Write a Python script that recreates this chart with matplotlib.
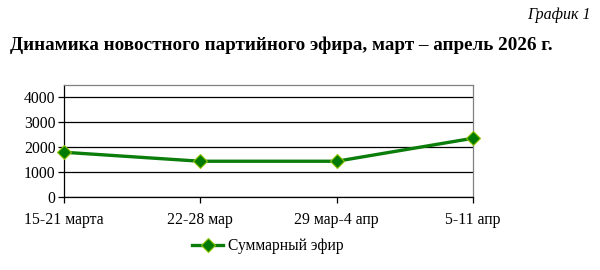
import matplotlib as mpl
from matplotlib import pyplot as plt

weeks = ['15-21 марта', '22-28 мар', '29 мар-4 апр', '5-11 апр']
total_air = [1790, 1430, 1430, 2350]
yticks = [0, 1000, 2000, 3000, 4000]

mpl.rc('font', family='Liberation Serif')

fig = plt.figure(figsize=(6, 2.7), dpi=100)
ax = fig.add_axes([64/600, 1 - 197/270, (473 - 64)/600, (197 - 85)/270])

x = list(range(len(weeks)))
ax.plot(x, total_air, color='#0a7d0a', lw=2.4, marker='D', markersize=7.5,
        markerfacecolor='#007a00', markeredgecolor='#8fc400', markeredgewidth=0.8,
        label='Суммарный эфир', zorder=3, clip_on=False)

ax.set_xlim(0, len(weeks) - 1)
ax.set_ylim(0, 4480)
ax.set_yticks(yticks)
ax.set_xticks(x)
ax.set_xticklabels(weeks)
ax.yaxis.grid(True, color='black', lw=0.9)
ax.set_axisbelow(True)
ax.tick_params(axis='both', labelsize=11.3, length=4, width=0.9, direction='out')
ax.tick_params(axis='x', pad=7)
ax.tick_params(axis='y', pad=2)
for s in ('top', 'right'):
    ax.spines[s].set_color('#808080')
    ax.spines[s].set_linewidth(0.9)
for s in ('left', 'bottom'):
    ax.spines[s].set_color('black')
    ax.spines[s].set_linewidth(0.9)

ax.legend(loc='center', bbox_to_anchor=(268/600, 1 - 246/270),
          bbox_transform=fig.transFigure, frameon=False, fontsize=11.2,
          handlelength=2.0, handletextpad=0.3)

fig.text(591/600, 1 - 15/270, 'График 1', ha='right', va='center',
         style='italic', fontsize=11.5)
fig.text(10/600, 1 - 45/270, 'Динамика новостного партийного эфира, март – апрель 2026 г.',
         ha='left', va='center', fontweight='bold', fontsize=13.8)

plt.savefig('out.png', dpi=100)
